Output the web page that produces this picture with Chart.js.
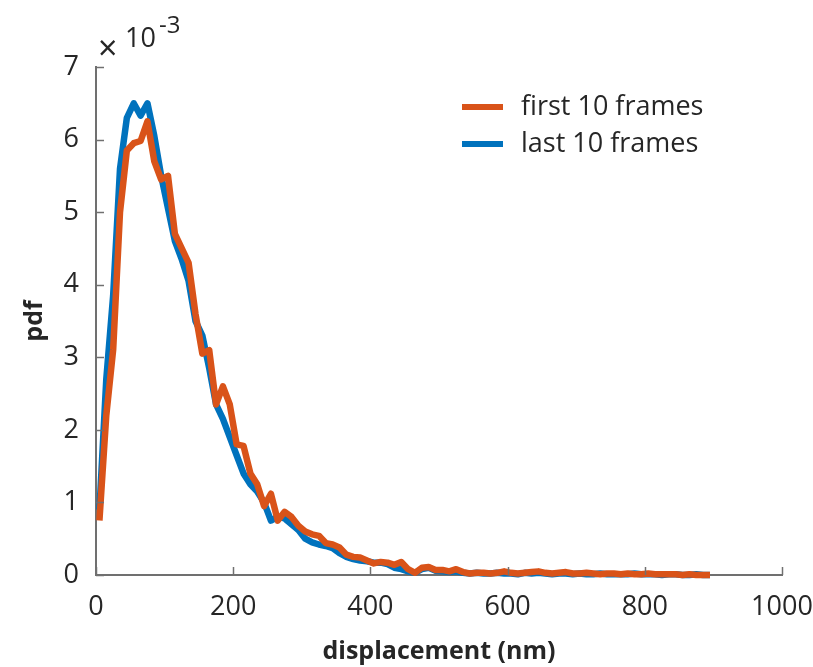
<!DOCTYPE html>
<html>
<head>
<meta charset="utf-8">
<script src="https://cdn.jsdelivr.net/npm/chart.js@4/dist/chart.umd.min.js"></script>
<style>
  html, body { margin: 0; padding: 0; background: #fff; }
  #wrap { width: 813px; height: 667px; }
</style>
</head>
<body>
<div id="wrap"><canvas id="pdfChart" width="813" height="667"></canvas></div>
<script>
// displacement bins (nm)
const displacement = [
  5, 15, 25, 35, 45, 55, 65, 75, 85, 95,
  105, 115, 125, 135, 145, 155, 165, 175, 185, 195,
  205, 215, 225, 235, 245, 255, 265, 275, 285, 295,
  305, 315, 325, 335, 345, 355, 365, 375, 385, 395,
  405, 415, 425, 435, 445, 455, 465, 475, 485, 495,
  505, 515, 525, 535, 545, 555, 565, 575, 585, 595,
  605, 615, 625, 635, 645, 655, 665, 675, 685, 695,
  705, 715, 725, 735, 745, 755, 765, 775, 785, 795,
  805, 815, 825, 835, 845, 855, 865, 875, 885, 895
];

// pdf values, in units of 1e-3
const firstFrames = [
  0.75, 2.2, 3.1, 5.0, 5.85, 5.95, 5.98, 6.25, 5.7, 5.45,
  5.5, 4.7, 4.5, 4.3, 3.6, 3.05, 3.1, 2.35, 2.6, 2.35,
  1.8, 1.78, 1.4, 1.25, 0.95, 1.12, 0.75, 0.87, 0.8, 0.68,
  0.6, 0.56, 0.54, 0.44, 0.42, 0.38, 0.28, 0.25, 0.24, 0.2,
  0.16, 0.18, 0.17, 0.14, 0.18, 0.08, 0.03, 0.1, 0.11, 0.07,
  0.07, 0.05, 0.08, 0.04, 0.02, 0.03, 0.03, 0.02, 0.03, 0.05,
  0.03, 0.02, 0.03, 0.04, 0.05, 0.03, 0.02, 0.03, 0.04, 0.02,
  0.02, 0.03, 0.02, 0.01, 0.02, 0.02, 0.01, 0.02, 0.01, 0.01,
  0.02, 0.01, 0.01, 0.01, 0.01, 0.0, 0.01, 0.0, 0.0, 0.0
];
const lastFrames = [
  0.9, 2.7, 3.85, 5.6, 6.3, 6.5, 6.33, 6.5, 6.05, 5.5,
  5.05, 4.6, 4.35, 4.05, 3.5, 3.3, 2.85, 2.35, 2.15, 1.9,
  1.65, 1.4, 1.25, 1.15, 1.0, 0.75, 0.8, 0.78, 0.7, 0.62,
  0.5, 0.45, 0.42, 0.4, 0.37, 0.3, 0.25, 0.22, 0.2, 0.19,
  0.17, 0.17, 0.15, 0.1, 0.08, 0.05, 0.03, 0.08, 0.1, 0.06,
  0.05, 0.04, 0.05, 0.03, 0.02, 0.03, 0.02, 0.02, 0.03, 0.02,
  0.02, 0.01, 0.03, 0.02, 0.03, 0.02, 0.01, 0.02, 0.02, 0.01,
  0.02, 0.01, 0.01, 0.02, 0.01, 0.01, 0.01, 0.01, 0.02, 0.01,
  0.01, 0.01, 0.0, 0.01, 0.01, 0.0, 0.0, 0.01, 0.0, 0.0
];

const xTicks = [0, 200, 400, 600, 800, 1000];
const yTicks = [0, 1, 2, 3, 4, 5, 6, 7];

const orange = '#D95319';
const blue = '#0072BD';
const axisGray = '#707070';
const textColor = '#262626';
const fontFamily = "'Open Sans', 'Noto Sans', sans-serif";

function toPoints(xs, ys) {
  return xs.map((x, i) => ({ x: x, y: ys[i] }));
}

// inward tick marks, exponent label and legend (MATLAB look)
const decorPlugin = {
  id: 'decor',
  afterDatasetsDraw(chart) {
    const ctx = chart.ctx;
    const xs = chart.scales.x;
    const ys = chart.scales.y;
    const area = chart.chartArea;
    ctx.save();
    ctx.strokeStyle = axisGray;
    ctx.lineWidth = 1.5;
    xTicks.forEach(v => {
      const px = Math.round(xs.getPixelForValue(v)) + 0.5;
      ctx.beginPath();
      ctx.moveTo(px, area.bottom);
      ctx.lineTo(px, area.bottom - 8);
      ctx.stroke();
    });
    yTicks.forEach(v => {
      const py = Math.round(ys.getPixelForValue(v)) + 0.5;
      ctx.beginPath();
      ctx.moveTo(area.left, py);
      ctx.lineTo(area.left + 8, py);
      ctx.stroke();
    });

    // x10^-3 label
    ctx.fillStyle = textColor;
    ctx.textBaseline = 'alphabetic';
    ctx.textAlign = 'left';
    ctx.font = '34px ' + fontFamily;
    ctx.fillText('\u00d7', area.left + 2, area.top - 7);
    ctx.font = '27px ' + fontFamily;
    ctx.fillText('10', area.left + 29, area.top - 20);
    ctx.font = '24px ' + fontFamily;
    ctx.fillText('-3', area.left + 63, area.top - 34);

    // legend
    const items = chart.data.datasets;
    ctx.font = '27px ' + fontFamily;
    ctx.textBaseline = 'middle';
    items.forEach((ds, i) => {
      const y = 107 + i * 37;
      ctx.strokeStyle = ds.borderColor;
      ctx.lineWidth = 6;
      ctx.beginPath();
      ctx.moveTo(462, y);
      ctx.lineTo(503, y);
      ctx.stroke();
      ctx.fillStyle = textColor;
      ctx.fillText(ds.label, 521, y);
    });
    ctx.restore();
  }
};

const ctx = document.getElementById('pdfChart').getContext('2d');
const pdfChart = new Chart(ctx, {
  type: 'line',
  data: {
    datasets: [
      {
        label: 'first 10 frames',
        data: toPoints(displacement, firstFrames),
        borderColor: orange,
        backgroundColor: orange,
        borderWidth: 6.5,
        pointRadius: 0,
        tension: 0,
        borderJoinStyle: 'round',
        borderCapStyle: 'butt',
        clip: false
      },
      {
        label: 'last 10 frames',
        data: toPoints(displacement, lastFrames),
        borderColor: blue,
        backgroundColor: blue,
        borderWidth: 6.5,
        pointRadius: 0,
        tension: 0,
        borderJoinStyle: 'round',
        borderCapStyle: 'butt',
        clip: false
      }
    ]
  },
  options: {
    responsive: false,
    animation: false,
    layout: { padding: { left: 0, top: 67, right: 31, bottom: 0 } },
    plugins: {
      legend: { display: false },
      tooltip: { enabled: false }
    },
    scales: {
      x: {
        type: 'linear',
        min: 0,
        max: 1000,
        afterBuildTicks: scale => { scale.ticks = xTicks.map(v => ({ value: v })); },
        afterFit: scale => {
          scale.height = 92;
          scale.paddingLeft = 0;
          scale.paddingRight = 0;
        },
        grid: { display: false },
        border: { display: true, color: axisGray, width: 2 },
        ticks: {
          color: textColor,
          padding: 8,
          maxRotation: 0,
          callback: v => String(v),
          font: { family: fontFamily, size: 27 }
        },
        title: {
          display: true,
          text: 'displacement (nm)',
          color: textColor,
          padding: { top: 0, bottom: 0 },
          font: { family: fontFamily, size: 25, weight: 'bold' }
        }
      },
      y: {
        type: 'linear',
        min: 0,
        max: 7,
        afterBuildTicks: scale => { scale.ticks = yTicks.map(v => ({ value: v })); },
        afterFit: scale => {
          scale.width = 96;
          scale.paddingTop = 0;
          scale.paddingBottom = 0;
        },
        grid: { display: false },
        border: { display: true, color: axisGray, width: 2 },
        ticks: {
          color: textColor,
          padding: 9,
          callback: v => String(v),
          font: { family: fontFamily, size: 27 }
        },
        title: {
          display: true,
          text: 'pdf',
          color: textColor,
          padding: { top: 20, bottom: 0 },
          font: { family: fontFamily, size: 25, weight: 'bold' }
        }
      }
    }
  },
  plugins: [decorPlugin]
});
</script>
</body>
</html>
